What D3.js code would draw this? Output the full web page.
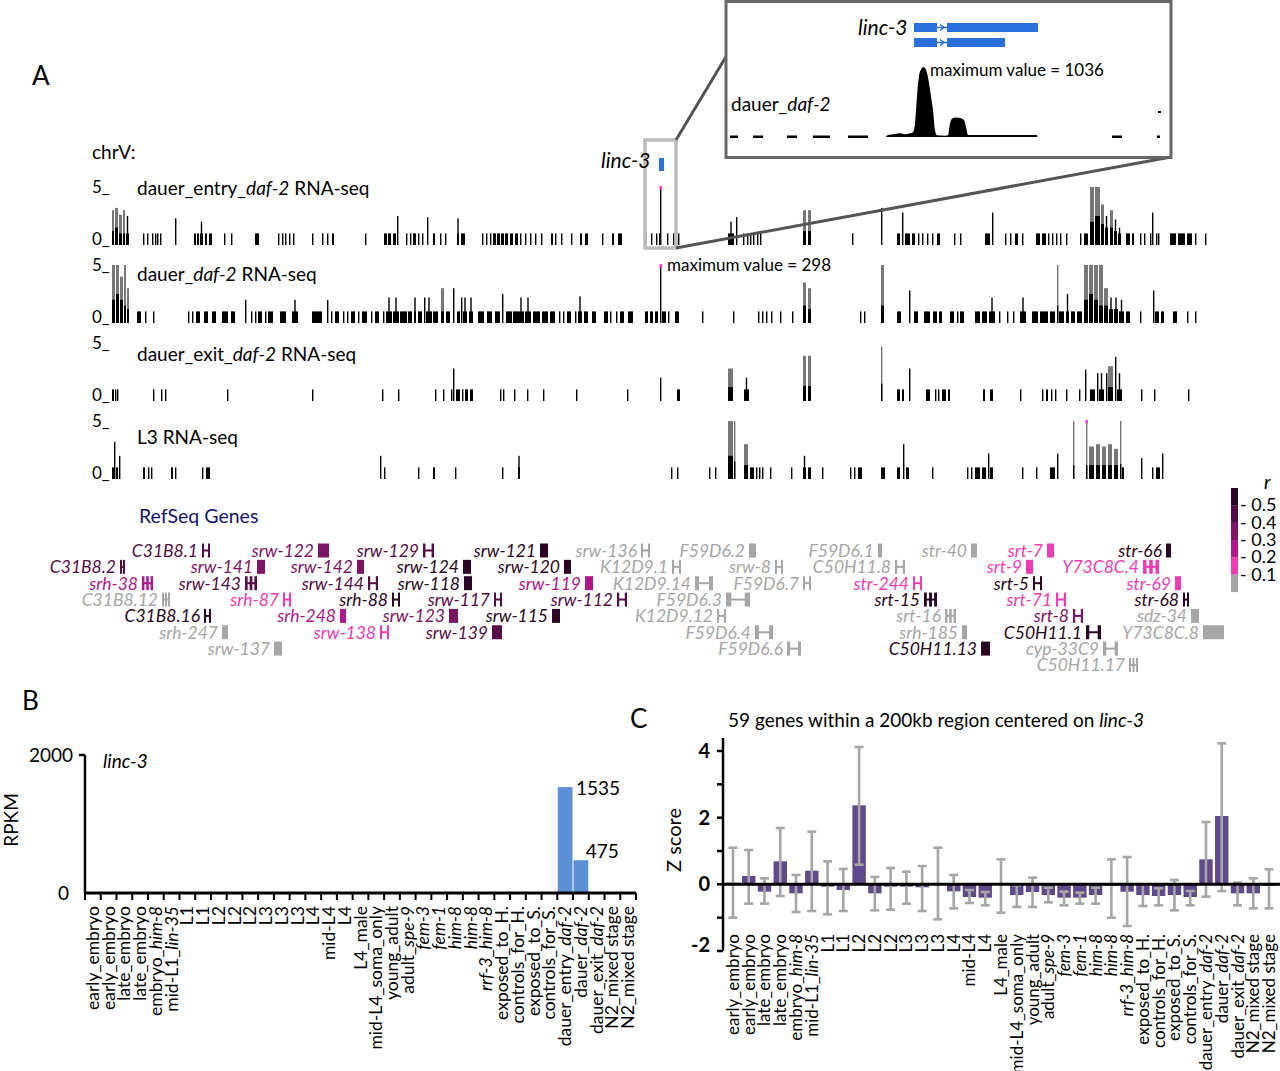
<!DOCTYPE html>
<html><head><meta charset="utf-8">
<script src="https://cdn.jsdelivr.net/npm/d3@7/dist/d3.min.js"></script>
<style>
body{margin:0;background:#fff;}
svg text{font-family:Lato,"Open Sans",sans-serif;}
</style>
</head><body>
<svg id="fig" width="1280" height="1071"></svg>
<script>
// ---------------- DATA ----------------
const sampleLabels = ["early_embryo","early_embryo","late_embryo","late_embryo","embryo_him-8","mid-L1_lin-35","L1","L1","L2","L2","L2","L3","L3","L3","L4","mid-L4","L4","L4_male","mid-L4_soma_only","young_adult","adult_spe-9","fem-3","fem-1","him-8","him-8","rrf-3_him-8","exposed_to_H.","controls_for_H.","exposed_to_S.","controls_for_S.","dauer_entry_daf-2","dauer_daf-2","dauer_exit_daf-2","N2_mixed stage","N2_mixed stage"];
const rpkm = [4,8,3,6,6,5,2,1,6,2,1,1,1,1,1,1,1,8,1,1,1,1,1,1,1,1,1,1,1,1,1535,475,6,2,2];
const rpkmTicks = [0,2000];
const zMean = [0.05,0.25,-0.22,0.69,-0.27,0.41,-0.07,-0.17,2.37,-0.27,-0.07,-0.07,-0.09,0.03,-0.21,-0.38,-0.40,0.0,-0.32,-0.23,-0.32,-0.40,-0.40,-0.32,-0.05,-0.22,-0.32,-0.35,-0.32,-0.38,0.75,2.05,-0.27,-0.27,-0.05];
const zHigh = [1.10,1.03,0.18,1.69,0.28,1.58,0.69,0.46,4.12,0.22,0.49,0.38,0.55,1.10,0.28,-0.17,-0.23,0.75,-0.03,0.20,-0.10,-0.22,-0.25,-0.10,0.75,0.82,0.0,-0.12,0.13,-0.20,1.87,4.23,0.05,0.18,0.45];
const zLow = [-1.0,-0.58,-0.58,-0.35,-0.83,-0.80,-0.90,-0.80,0.59,-0.78,-0.76,-0.58,-0.80,-1.05,-0.72,-0.56,-0.63,-0.85,-0.68,-0.68,-0.54,-0.63,-0.58,-0.58,-1.0,-1.25,-0.65,-0.63,-0.78,-0.63,-0.37,-0.20,-0.63,-0.72,-0.72];
const zTicks = [-2,-1,0,1,2,3,4];
const zTickLabels = [-2,0,2,4];

// browser tracks: [start kb, length kb, max, mean]
const trackNames = ["dauer_entry_daf-2 RNA-seq","dauer_daf-2 RNA-seq","dauer_exit_daf-2 RNA-seq","L3 RNA-seq"];
const entryTrack = [
[0.4,.4,3,1.2],[1.0,.6,3.2,1.5],[1.8,.6,2.6,1],[2.6,.4,3,1],[3.2,.6,2.5,1],
[6.6],[7.4],[8.4],[9.0],[9.4],[10.0],[13.0,0,2.3],
[16.8,.4],[17.4,.4],[18.0,.6,2,1],[19.0,.4],[19.8,.6],
[22.8],[24.2],[29.0,.8],[33.6],[34.4],[35.0],[35.8],[36.6],[40.4],[42.4],[43.4],[44.4,.4],[51.0],
[54.8,.6],[55.6,.6],[56.6,.6],[57.4,0,2.5],[59.2],[60.0],[60.6,.6],[61.6],[62.4],[63.4,0,2.4],
[64.6,.4],[66.0],[67.0],[69.4,.4,2.3,1],[70.2,.8],
[74.4],[75.2],[76.0],[76.6,.6],[77.4,.6],[78.2,.6],[79.0,.6],[80.0,.6],[81.0,.6],[82.0],[83.0],[84.0],[85.0],[86.2],
[88.2,.4],[89.0],[90.2],[92.2],[94.0,.4],[95.0,.6],[98.4],[100.4,.4],[101.6,.8],
[107.0],[108.2],[109.2],[109.8,.4],[110.0,0,5],[111.4],[112.6],[113.6],
[123.6,1.2,2,1],[125.2,0,2.4],[126.6],[127.4],[128.0],[128.6],[129.4],[130.0],
[138.6,.6,3,1.2],[139.6,.6,3,1.2],[148.4],[154.2,0,3.2],
[157.4,.6],[158.4,0,2.8],[159.0,1.0],[160.4,.6],[161.6],[162.4],[163.4],[164.4],[165.4,.6],
[168.8],[170.0],[175.0,1.0],[176.4,0,2.8],[179.0],[180.0],[181.0,.6],[182.4],
[185.2,.8],[186.4,.8],[187.6],[188.4],[189.2],[190.0],[191.2],
[194.0],[194.8,.8],[196.0,.8,5,2],[197.0,1.0,5,2.5],[198.2,.6,3.5,1.8],[199.0,.6,2.5,1.5],[200.0,.6,3,1.5],[200.8,.6,2.2,1.2],[201.6,.6,1.5,1],
[203.2,.8],[204.4,.4],[206.0],[206.8],[208.0],[208.4,0,2.8],[209.2],[209.6],
[212.0,1.2],[213.6,1.4],[215.4,1.0],[217.0],[219.0]
];
const dauerTrack = [
[0.4,.6,5,2],[1.2,.6,5,2.5],[2.0,.6,4,2],[2.8,.4,5,1.5],[3.4,.4,3,1.2],
[5.4,.8],[7.0],[8.6],[15.6],[16.4],[17.2,.8],[18.8,.8],[20.4,.8],[22.4,1.2],[24.2,.8],[27.0,0,2],
[28.2],[29.0],[29.6,.8],[31.0],[31.6,1.0],[34.0,1.2],[36.4,1.2,2,1],[40.4,2.0],[43.4,0,2],
[44.2],[45.0,.8],[46.6],[47.4],[48.2,.8],[49.6],[50.4,1.0],[52.2],[53.0,.8],[54.6],
[55.2,1.2,2.2,1],[56.6,1.2,2.2,1],[58.0,1.4],[59.6,.8],[60.8,.4,2.2,1],[61.6,.8],[62.8,0,2.2],[63.2,1.2,2.2,1],
[64.6,1.0],[66.2,.6,3,1],[67.2,.8],[68.6,0,3],[69.4,.6],[70.2,0,2.2],[70.6,.8,2.2,1],[71.8,.8,2.2,1],
[73.6,1.2],[75.4,1.0],[77.0,1.0],[78.4,0,2.5],[79.2,1.2],[80.6,1.0],[81.6,1.2,2.2,1],[83.0,1.2,2.2,1],
[84.6,1.4],[86.4,1.2],[88.0,1.0],[89.8],[90.6],[91.4,.8],[93.0],[93.6,.8,2.3,1],[94.8,.8],[96.4,.8],
[98.8,.8],[100.0],[101.2],[102.0,.8],[103.6,1.0],
[107.0,.6],[108.0,.6],[109.0,.6],[110.0,0,5],[110.4,.8],[111.6],[113.0,.8],
[118.4],[124.6],[129.6],[130.4],[131.2],[132.2],[134.0],[136.4],
[138.6,.6,3.5,1.5],[139.6,.6,3,1.2],[150.0],[150.8],[154.2,.6,5,1.5],
[157.4,.8],[159.8,0,2.8],[160.8,.8],[162.8,1.2],[164.6,.8],[165.8,.6],[168.0,.8],[169.4],[170.0,.8],
[173.0,1.0],[174.4,1.0],[175.8,1.2,2.2,1],[177.8],[179.4],[180.6],[182.0,1.2,2.2,1],
[184.4,1.2],[186.0,1.6],[188.0,1.0],[189.4,0,5,1.5],[189.8,1.0],[191.2,.6,2.5,1],[192.2,.8],
[193.4,1.0],[194.8,.8,5,2],[195.8,.8,5,2.5],[196.8,.8,5,2],[197.8,.8,5,1.5],[198.8,.8,3,1.5],
[199.8,.8,2.2,1.2],[200.8,.8,2.2,1.2],[201.8,1.0,2,1],[203.2,.8],[206.0],[208.6,0,2.8],[209.0,.8],[210.2,.6],
[212.6,.8],[215.4],[217.0]
];
const exitTrack = [
[0.4,.4],[1.0],[1.4],[8.6],[10.2],[11.0],[23.4],[40.4],[54.4],[57.6],[65.0],[66.6],[68.2],[68.6,0,2.8],
[69.2,.8],[70.4],[71.0,.6],[72.0,.6],[78.0],[78.6],[80.8],[83.4],[86.6],[93.2],[103.4],
[110.0,0,2],[113.4,.6],[123.6,1.0,2.8,1.2],[126.8,1.0,2,1],[138.6,.6,3.9,1.3],[139.6,.6,3.9,1.3],
[154.2,0,4.7,1.5],[157.4,.6],[158.4,.4],[159.8,0,2.8],[163.2,.8],[165.0],[165.6],[166.4,.8],[167.6,.4],
[174.6,.4],[176.0,.6],[182.0],[186.4],[187.2,.4],[188.2],[189.0],[191.2],[193.8],
[195.0,0,2.7],[196.0,1.0],[197.4,0,2.4],[197.8,1.0,2.4,1],[199.2,0,2.4],[199.6,1.0,3,1.2],[201.0,0,3.8],[201.4,1.0,2.4,1],
[206.2],[208.8],[215.6]
];
const l3Track = [
[0.4,.4],[0.8,0,3.2],[1.2,.4],[1.8,0,2],[6.6,.4],[7.6],[8.2],[12.2,.4],[13.0],[18.4],[19.2,.8],
[54.0,0,2],[54.8],[61.6],[64.6,.4],[69.0],[78.4],[81.6,.4,2,1],
[112.2],[113.4],[119.8],[121.0],[123.6,1.0,5,2],[124.8,0,5,1.5],[126.8,.8,3,1.2],[128.0,.8],[129.2],[129.8],[130.4],
[132.0],[136.2],[138.6,.6,2,1],[139.6,.6],[142.4],[148.0],[148.8],[149.6,.8],[154.2,.8],
[157.4,.6],[158.6,0,3],[159.2,.6],[164.4],[171.4],[172.2],[173.0,1.0],[174.4,.8],[175.6,0,2.2],[176.0,.6],
[182.4],[185.2],[188.0,1.0],[189.4,0,2.2],[192.6,0,5,1.2],[195.2,0,5,1.2],
[195.8,1.0,2.8,1.2],[197.2,.8,3,1.2],[198.4,.8,2.8,1.2],[199.6,.8,3,1.2],[200.8,.8,2.6,1.2],[202.0,0,5,1.3],[202.4,.4],
[206.2,0,1.8],[208.4],[209.2,.8],[210.4,0,2.2]
];
const tracks = [entryTrack, dauerTrack, exitTrack, l3Track];
const maxMarks = [[0,110.0],[1,110.0],[3,195.2]];
const lincLocus = [109.8,110.8];
const zoomBox = [107.0,113.2];

// inset profile (bp within zoomed window, reads)
const insetProfile = [[1560,0],[1580,30],[1650,45],[1700,55],[1750,40],[1800,55],[1830,70],[1850,200],[1870,600],[1890,900],[1910,1000],[1930,1036],[1950,1020],[1970,950],[1990,800],[2010,600],[2030,400],[2050,100],[2070,25],[2150,20],[2180,25],[2200,200],[2220,270],[2260,290],[2300,280],[2340,250],[2360,150],[2380,30],[3070,30],[3075,0]];
const insetDashes = [[0,80],[230,330],[570,670],[830,1000],[1180,1380],[3820,3920],[4270,4300]];
const lincTranscripts = [[[1840,2070],[2170,3080]],[[1840,2070],[2170,2750]]];

// genes: [name,row,startKb,endKb,rCategory,style]
const genes = [
["C31B8.1",0,18.4,20.0,4,"h"],["srw-122",0,41.6,43.8,3,"b"],["srw-129",0,62.6,64.8,4,"h"],["srw-121",0,86.0,87.6,5,"b"],["srw-136",0,106.2,108.0,0,"h"],
["F59D6.2",0,127.8,129.2,0,"b"],["F59D6.1",0,153.6,154.4,0,"b"],["str-40",0,172.2,173.4,0,"b"],["srt-7",0,187.4,188.8,1,"b"],["str-66",0,211.2,212.2,5,"b"],
["C31B8.2",1,2.0,3.0,4,"h"],["srw-141",1,29.4,31.0,3,"b"],["srw-142",1,49.4,50.8,3,"b"],["srw-124",1,70.6,72.2,5,"b"],["srw-120",1,90.8,92.2,5,"b"],
["K12D9.1",1,112.4,114.2,0,"h"],["srw-8",1,133.0,134.6,0,"h"],["C50H11.8",1,157.0,159.0,0,"h"],["srt-9",1,183.2,184.6,1,"b"],["Y73C8C.4",1,206.6,209.8,1,"hh"],
["srh-38",2,6.4,8.6,2,"hh"],["srw-143",2,27.0,29.4,4,"hh"],["srw-144",2,51.6,53.6,4,"h"],["srw-118",2,70.8,72.4,5,"b"],["srw-119",2,95.0,96.6,2,"b"],
["K12D9.14",2,117.0,120.6,0,"h"],["F59D6.7",2,138.6,140.2,0,"h"],["str-244",2,160.6,162.4,1,"h"],["srt-5",2,184.6,186.4,5,"h"],["str-69",2,213.0,214.2,1,"b"],
["C31B8.12",3,10.4,12.0,0,"hh"],["srh-87",3,34.6,36.2,1,"h"],["srh-88",3,56.4,58.0,5,"h"],["srw-117",3,76.8,78.4,4,"h"],["srw-112",3,101.4,103.4,4,"h"],
["F59D6.3",3,123.2,128.0,0,"h"],["srt-15",3,162.8,165.4,5,"hh"],["srt-71",3,189.2,191.2,1,"h"],["str-68",3,214.6,215.8,5,"h"],
["C31B8.16",4,18.8,20.2,5,"h"],["srh-248",4,46.0,47.2,2,"b"],["srw-123",4,67.8,69.6,3,"b"],["srw-115",4,88.4,90.0,5,"b"],
["K12D9.12",4,121.4,123.2,0,"h"],["srt-16",4,167.0,169.2,0,"hh"],["srt-8",4,192.6,194.6,3,"h"],["sdz-34",4,216.2,217.8,0,"b"],
["srh-247",5,22.4,23.6,0,"b"],["srw-138",5,54.0,55.8,1,"h"],["srw-139",5,76.4,78.4,4,"b"],["F59D6.4",5,129.0,132.6,0,"h"],
["srh-185",5,170.4,171.4,0,"b"],["C50H11.1",5,195.2,198.2,5,"h"],["Y73C8C.8",5,218.6,222.8,0,"b"],
["srw-137",6,32.8,34.4,0,"b"],["F59D6.6",6,135.4,138.2,0,"h"],["C50H11.13",6,174.2,176.0,5,"b"],["cyp-33C9",6,198.6,201.6,0,"h"],
["C50H11.17",7,203.8,205.6,0,"hh"]
];
const rColors = ["#a6a6a6","#f03cb4","#b0178c","#7e1466","#560c46","#2a0624"];
const rLegendTicks = ["0.1","0.2","0.3","0.4","0.5"];

// ---------------- DRAW ----------------
const svg = d3.select("#fig");
const italicRe = /(him-8|lin-35|spe-9|fem-3|fem-1|rrf-3|daf-2)/;
const italicOnly = /^(him-8|lin-35|spe-9|fem-3|fem-1|rrf-3|daf-2)$/;
function rich(sel, label){
  label.split(italicRe).filter(p=>p).forEach(p=>{
    sel.append("tspan").text(p).attr("font-style", italicOnly.test(p) ? "italic" : null);
  });
}

// ===== Panel A =====
svg.append("text").attr("x",32).attr("y",85).attr("font-size",26).text("A");
svg.append("text").attr("x",92).attr("y",159).attr("font-size",19).text("chrV:");

const xA = d3.scaleLinear().domain([0,220]).range([110,1210]);
const hA = d3.scaleLinear().domain([0,5]).range([0,58]);
const trackBase = [245,323,401,479];
const labelDy = [56,48,46,41];

tracks.forEach((data,i)=>{
  const b = trackBase[i];
  const g = svg.append("g");
  g.append("text").attr("x",92).attr("y",b-52).attr("font-size",17).text("5_");
  g.append("text").attr("x",92).attr("y",b).attr("font-size",17).text("0_");
  const t = g.append("text").attr("x",137).attr("y",b-labelDy[i]+6).attr("font-size",19);
  rich(t, trackNames[i]);
  data.forEach(d=>{
    const s=d[0], len=d[1]||0, mx=d[2]===undefined?1:d[2], mean=d[3];
    const x0 = xA(s), w = Math.max(1.4, xA(s+len)-x0);
    if(mean!==undefined && mean<mx){
      if(mx>2.5){
        g.append("rect").attr("x",x0).attr("y",b-hA(mx)).attr("width",w).attr("height",hA(mx)).attr("fill","#777");
      } else {
        g.append("rect").attr("x",x0+w/2-0.7).attr("y",b-hA(mx)).attr("width",1.4).attr("height",hA(mx)).attr("fill","#000");
      }
      g.append("rect").attr("x",x0).attr("y",b-hA(mean)).attr("width",w).attr("height",hA(mean)).attr("fill","#000");
    } else {
      g.append("rect").attr("x",x0).attr("y",b-hA(mx)).attr("width",w).attr("height",hA(mx)).attr("fill","#000");
    }
  });
});
maxMarks.forEach(([ti,kb])=>{
  svg.append("rect").attr("x",xA(kb)-0.5).attr("y",trackBase[ti]-hA(5)-1).attr("width",2.4).attr("height",3.5).attr("fill","#ff33dd");
});
svg.append("text").attr("x",667).attr("y",271).attr("font-size",17).text("maximum value = 298");

// linc-3 locus
svg.append("rect").attr("x",xA(zoomBox[0])).attr("y",140).attr("width",xA(zoomBox[1])-xA(zoomBox[0])).attr("height",108)
  .attr("fill","none").attr("stroke","#bbbbbb").attr("stroke-width",3.5);
svg.append("text").attr("x",601).attr("y",168).attr("font-size",21).attr("font-style","italic").text("linc-3");
svg.append("rect").attr("x",xA(lincLocus[0])).attr("y",158).attr("width",xA(lincLocus[1])-xA(lincLocus[0])).attr("height",13).attr("fill","#2a6fdc");
svg.append("line").attr("x1",xA(zoomBox[1])).attr("y1",140).attr("x2",727).attr("y2",55).attr("stroke","#555").attr("stroke-width",3);
svg.append("line").attr("x1",xA(zoomBox[1])).attr("y1",248).attr("x2",1171).attr("y2",157).attr("stroke","#555").attr("stroke-width",3);

// inset
const inset = svg.append("g");
inset.append("rect").attr("x",726).attr("y",1.5).attr("width",445).attr("height",156).attr("fill","#fff").attr("stroke","#666").attr("stroke-width",3);
const xI = d3.scaleLinear().domain([0,4300]).range([730,1160]);
const hI = d3.scaleLinear().domain([0,1036]).range([0,70]);
const insetBase = 137;
inset.append("path").datum(insetProfile)
  .attr("d", d3.area().x(d=>xI(d[0])).y0(insetBase).y1(d=>insetBase-hI(d[1])).curve(d3.curveMonotoneX))
  .attr("fill","#000");
insetDashes.forEach(([s,e])=>{
  inset.append("rect").attr("x",xI(s)).attr("y",insetBase-1.5).attr("width",xI(e)-xI(s)).attr("height",2.5).attr("fill","#000");
});
inset.append("rect").attr("x",1158).attr("y",111).attr("width",3).attr("height",2).attr("fill","#000");
const rowY = [23,38];
lincTranscripts.forEach((ex,ri)=>{
  const y = rowY[ri];
  inset.append("line").attr("x1",xI(ex[0][1])).attr("x2",xI(ex[1][0])).attr("y1",y+4.5).attr("y2",y+4.5).attr("stroke","#2a6fdc").attr("stroke-width",1.5);
  const mx = (xI(ex[0][1])+xI(ex[1][0]))/2;
  inset.append("path").attr("d",`M${mx-2},${y+1.5}L${mx+2},${y+4.5}L${mx-2},${y+7.5}`).attr("fill","none").attr("stroke","#2a6fdc").attr("stroke-width",1.5);
  ex.forEach(([s,e])=>{
    inset.append("rect").attr("x",xI(s)).attr("y",y).attr("width",xI(e)-xI(s)).attr("height",9).attr("fill","#2a6fdc");
  });
});
inset.append("text").attr("x",858).attr("y",35).attr("font-size",21).attr("font-style","italic").text("linc-3");
inset.append("text").attr("x",930).attr("y",76).attr("font-size",17).text("maximum value = 1036");
const il = inset.append("text").attr("x",731).attr("y",111).attr("font-size",19);
rich(il, "dauer_daf-2");

// RefSeq genes
svg.append("text").attr("x",139).attr("y",523).attr("font-size",19.5).attr("fill","#141470").text("RefSeq Genes");
const geneRowY = r => 550.5 + r*16.35;
const gg = svg.append("g");
genes.forEach(([name,row,s,e,cat,style])=>{
  const cy = geneRowY(row), col = rColors[cat];
  const x0 = xA(s), x1 = xA(e), w = x1-x0;
  gg.append("text").attr("x",x0-4).attr("y",cy+6.5).attr("text-anchor","end")
    .attr("font-family","'Liberation Sans',Arial,sans-serif").attr("font-style","italic").attr("font-size",17.5)
    .attr("fill",col).text(name);
  if(style==="b"){
    gg.append("rect").attr("x",x0).attr("y",cy-7).attr("width",w).attr("height",14).attr("fill",col);
  } else {
    gg.append("rect").attr("x",x0).attr("y",cy-1).attr("width",w).attr("height",2).attr("fill",col);
    const ex = style==="hh" ? [0,0.5,1] : [0,1];
    ex.forEach(f=>{
      const ew = Math.max(2, w*0.22);
      gg.append("rect").attr("x",x0+f*(w-ew)).attr("y",cy-7).attr("width",ew).attr("height",14).attr("fill",col);
    });
  }
});

// r legend
const lg = svg.append("g");
const segH = 17.3, lgTop = 488;
rColors.slice().reverse().forEach((c,i)=>{
  lg.append("rect").attr("x",1231).attr("y",lgTop+i*segH).attr("width",7).attr("height",segH+0.3).attr("fill",c);
});
rLegendTicks.slice().reverse().forEach((t,i)=>{
  lg.append("text").attr("x",1240).attr("y",lgTop+(i+1)*segH+6).attr("font-size",18).text("- "+t);
});
lg.append("text").attr("x",1264).attr("y",489).attr("font-size",19).attr("font-style","italic").text("r");

// ===== Panel B =====
svg.append("text").attr("x",22).attr("y",710).attr("font-size",26).text("B");
const xB = d3.scaleBand().domain(d3.range(sampleLabels.length)).range([85,636]).paddingInner(0);
const yB = d3.scaleLinear().domain([0,2000]).range([893,755]);
const gB = svg.append("g");
gB.selectAll("rect.bar").data(rpkm).join("rect").attr("class","bar")
  .attr("x",(d,i)=>xB(i)+0.5).attr("width",xB.bandwidth()-1)
  .attr("y",d=>yB(d)).attr("height",d=>yB(0)-yB(d)).attr("fill","#5b8fd6");
gB.append("line").attr("x1",85).attr("x2",85).attr("y1",yB(2000)).attr("y2",yB(0)).attr("stroke","#000").attr("stroke-width",2.5);
gB.append("line").attr("x1",79).attr("x2",85).attr("y1",yB(2000)).attr("y2",yB(2000)).attr("stroke","#000").attr("stroke-width",2.5);
rpkmTicks.forEach(t=>{
  gB.append("text").attr("x",t===0?69:73).attr("y",yB(t)+7).attr("text-anchor","end").attr("font-size",19).text(t);
});
gB.append("line").attr("x1",84).attr("x2",636).attr("y1",yB(0)).attr("y2",yB(0)).attr("stroke","#000").attr("stroke-width",3);
d3.range(sampleLabels.length+1).forEach(i=>{
  const x = 85 + i*xB.step();
  gB.append("line").attr("x1",x).attr("x2",x).attr("y1",yB(0)).attr("y2",yB(0)+7).attr("stroke","#000").attr("stroke-width",2);
});
sampleLabels.forEach((lab,i)=>{
  const t = gB.append("text").attr("text-anchor","end").attr("font-size",17.5)
    .attr("transform",`translate(${xB(i)+xB.bandwidth()/2+6},906) rotate(-90)`);
  rich(t, lab);
});
gB.append("text").attr("transform","translate(18,820) rotate(-90)").attr("text-anchor","middle").attr("font-size",19).text("RPKM");
gB.append("text").attr("x",103).attr("y",768).attr("font-size",19).attr("font-style","italic").text("linc-3");
gB.append("text").attr("x",xB(30)+xB.bandwidth()+3).attr("y",yB(rpkm[30])+8).attr("font-size",19).text(rpkm[30]);
gB.append("text").attr("x",xB(31)+xB.bandwidth()-3).attr("y",yB(rpkm[31])-2).attr("font-size",19).text(rpkm[31]);

// ===== Panel C =====
svg.append("text").attr("x",630).attr("y",728).attr("font-size",26).text("C");
const tC = svg.append("text").attr("x",728).attr("y",727).attr("font-size",19);
tC.append("tspan").text("59 genes within a 200kb region centered on ");
tC.append("tspan").attr("font-style","italic").text("linc-3");
const xC = d3.scaleBand().domain(d3.range(sampleLabels.length)).range([725,1277]).paddingInner(0.15).paddingOuter(0.08);
const yC = d3.scaleLinear().domain([-2,4]).range([951,751]);
const gC = svg.append("g");
gC.selectAll("rect.zbar").data(zMean).join("rect").attr("class","zbar")
  .attr("x",(d,i)=>xC(i)).attr("width",xC.bandwidth())
  .attr("y",d=>yC(Math.max(0,d))).attr("height",d=>Math.abs(yC(d)-yC(0))).attr("fill","#5e4a8a");
zMean.forEach((d,i)=>{
  const cx = xC(i)+xC.bandwidth()/2;
  gC.append("line").attr("x1",cx).attr("x2",cx).attr("y1",yC(zHigh[i])).attr("y2",yC(zLow[i])).attr("stroke","#a6a6a6").attr("stroke-width",2.6);
  [zHigh[i],zLow[i]].forEach(v=>{
    gC.append("line").attr("x1",cx-4.5).attr("x2",cx+4.5).attr("y1",yC(v)).attr("y2",yC(v)).attr("stroke","#a6a6a6").attr("stroke-width",2.6);
  });
});
gC.append("line").attr("x1",723).attr("x2",1280).attr("y1",yC(0)).attr("y2",yC(0)).attr("stroke","#000").attr("stroke-width",3);
gC.append("line").attr("x1",723).attr("x2",723).attr("y1",738).attr("y2",yC(-2)).attr("stroke","#000").attr("stroke-width",2.5);
zTicks.forEach(t=>{
  gC.append("line").attr("x1",717).attr("x2",723).attr("y1",yC(t)).attr("y2",yC(t)).attr("stroke","#000").attr("stroke-width",2.5);
});
zTickLabels.forEach(t=>{
  gC.append("text").attr("x",710).attr("y",yC(t)+(t===-2?1:7)).attr("text-anchor","end").attr("font-size",20).attr("font-weight",700).text(t);
});
gC.append("text").attr("transform","translate(681,840) rotate(-90)").attr("text-anchor","middle").attr("font-size",20).text("Z score");
sampleLabels.forEach((lab,i)=>{
  const t = gC.append("text").attr("text-anchor","end").attr("font-size",17)
    .attr("transform",`translate(${xC(i)+xC.bandwidth()/2+6},934) rotate(-90)`);
  rich(t, lab);
});
</script>
</body></html>
